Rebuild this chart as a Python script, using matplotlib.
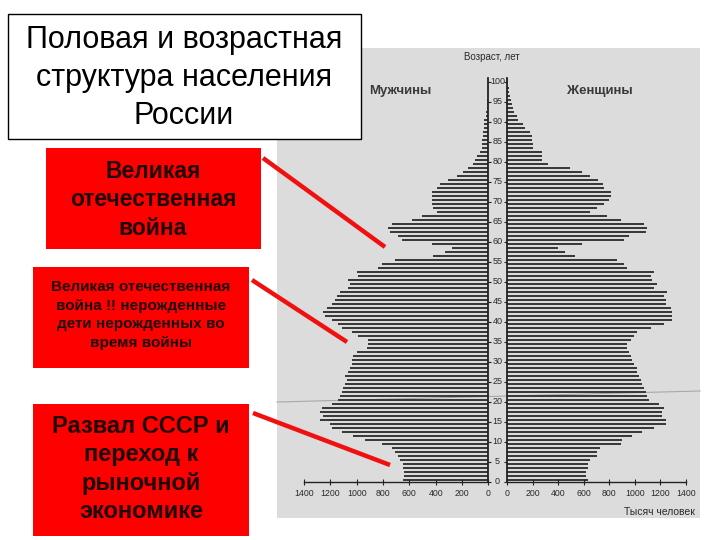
import matplotlib
matplotlib.use("Agg")
import matplotlib.pyplot as plt
import numpy as np
from matplotlib.patches import Rectangle
from matplotlib.lines import Line2D
from matplotlib import transforms

plt.rcParams['font.family'] = ['Liberation Sans', 'DejaVu Sans']

# ---- data (thousands of people, ages 0..100) ----
ages = list(range(0, 101))
men = [648, 640, 640, 648, 648, 670, 686, 709, 731, 807,
       936, 1027, 1111, 1187, 1202, 1278, 1255, 1278, 1263, 1187,
       1141, 1126, 1111, 1103, 1088, 1073, 1088, 1065, 1050, 1035,
       1035, 1027, 997, 921, 913, 913, 990, 1035, 1111, 1141,
       1187, 1240, 1255, 1225, 1187, 1164, 1149, 1126, 1065, 1050,
       1065, 990, 997, 838, 807, 709, 420, 329, 276, 427,
       655, 686, 746, 762, 731, 580, 503, 390, 420, 427,
       427, 427, 427, 390, 367, 306, 238, 192, 154, 116,
       101, 86, 63, 48, 48, 45, 40, 38, 35, 33,
       30, 20, 15, 12, 10, 8, 6, 5, 4, 3, 2]
women = [629, 613, 613, 629, 629, 645, 699, 699, 723, 894,
         902, 980, 1058, 1151, 1245, 1245, 1214, 1214, 1229, 1190,
         1112, 1097, 1089, 1073, 1058, 1050, 1034, 1019, 1019, 995,
         980, 972, 956, 941, 941, 972, 995, 1019, 1128, 1229,
         1292, 1292, 1292, 1284, 1245, 1245, 1229, 1253, 1151, 1175,
         1136, 1128, 1151, 941, 917, 863, 528, 450, 395, 582,
         917, 956, 1089, 1097, 1073, 894, 785, 645, 699, 761,
         800, 816, 816, 761, 746, 707, 645, 582, 489, 317,
         271, 271, 271, 200, 200, 193, 193, 177, 138, 122,
         83, 76, 52, 44, 37, 28, 22, 16, 12, 9, 6]
x_ticks = [0, 200, 400, 600, 800, 1000, 1200, 1400]
age_ticks = list(range(0, 101, 5))

title = "Половая и возрастная\nструктура населения\nРоссии"
note1 = "Великая\nотечественная\nвойна"
note2 = "Великая отечественная\nвойна !! нерожденные\nдети нерожденных во\nвремя войны"
note3 = "Развал СССР и\nпереход к\nрыночной\nэкономике"

W, H = 720, 540
fig = plt.figure(figsize=(W / 100, H / 100), dpi=100)
fig.patch.set_facecolor('white')


def fx(x):
    return x / W


def fy(y):
    return 1 - y / H


# gray scanned panel
fig.add_artist(Rectangle((fx(277), fy(518)), fx(700) - fx(277), fy(48) - fy(518),
                         transform=fig.transFigure, facecolor='#dcdcdc',
                         edgecolor='none', zorder=-3))
# faint scan line
fig.add_artist(Line2D([fx(277), fx(700)], [fy(402), fy(391)], transform=fig.transFigure,
                      color='#a8a8a8', lw=0.8, zorder=-2))

bar_color = '#3a3a3a'
txt_color = '#2a2a2a'
y = np.array(ages) + 0.5

# men (left)
axL = fig.add_axes([fx(304), fy(482), fx(488.3) - fx(304), fy(78) - fy(482)])
axL.set_facecolor('none')
axL.barh(y, men, height=0.68, color=bar_color, edgecolor='none')
axL.set_xlim(1400, 0)
axL.set_ylim(0, 101)
# women (right)
axR = fig.add_axes([fx(507.3), fy(482), fx(686) - fx(507.3), fy(78) - fy(482)])
axR.set_facecolor('none')
axR.barh(y, women, height=0.68, color=bar_color, edgecolor='none')
axR.set_xlim(0, 1400)
axR.set_ylim(0, 101)

for ax, side in ((axL, 'right'), (axR, 'left')):
    for s in ('top', 'left', 'right', 'bottom'):
        ax.spines[s].set_visible(False)
    ax.spines[side].set_visible(True)
    ax.spines['bottom'].set_visible(True)
    ax.spines[side].set_color('#222222')
    ax.spines['bottom'].set_color('#222222')
    ax.spines[side].set_linewidth(1.3)
    ax.spines['bottom'].set_linewidth(1.0)
    ax.set_xticks(x_ticks)
    ax.set_xticklabels([str(v) for v in x_ticks])
    ax.tick_params(axis='x', direction='inout', length=4, width=0.8, colors='#222222',
                   labelsize=6.3, labelcolor=txt_color, pad=3)
    ax.set_yticks(age_ticks)
    ax.yaxis.set_ticks_position(side)
    ax.tick_params(axis='y', direction='out', length=2.5, width=0.8, colors='#222222',
                   labelleft=False, labelright=False)

# age labels between the spines
trans = transforms.blended_transform_factory(fig.transFigure, axL.transData)
for a in age_ticks:
    axL.text(fx(497.5), a, str(a), transform=trans, ha='center', va='center',
             fontsize=6.5, color=txt_color, clip_on=False)

fig.text(fx(492), fy(57), "Возраст, лет", ha='center', va='center', fontsize=7, color=txt_color)
fig.text(fx(400), fy(91), "Мужчины", ha='center', va='center', fontsize=9.5,
         fontweight='bold', color='#3a3a3a')
fig.text(fx(600), fy(91), "Женщины", ha='center', va='center', fontsize=9.5,
         fontweight='bold', color='#3a3a3a')
fig.text(fx(695), fy(512), "Тысяч человек", ha='right', va='center', fontsize=7.5, color=txt_color)

# title box
fig.add_artist(Rectangle((fx(8), fy(139)), fx(361) - fx(8), fy(14) - fy(139),
                         transform=fig.transFigure, facecolor='white',
                         edgecolor='black', lw=1.0, zorder=5))
fig.text(fx(184), fy(78), title, ha='center', va='center', fontsize=22,
         linespacing=1.33, color='black', zorder=6)

# red notes
red = '#ff0000'
note_color = '#1e0808'
boxes = [((46, 148, 261, 249), note1, 16.5, 1.3, (153, 200)),
         ((33, 267, 249, 368), note2, 11, 1.4, (141, 315)),
         ((33, 404, 249, 536), note3, 17, 1.3, (141, 469))]
for (x0, y0, x1, y1), txt, fs, ls, (cx, cy) in boxes:
    fig.add_artist(Rectangle((fx(x0), fy(y1)), fx(x1) - fx(x0), fy(y0) - fy(y1),
                             transform=fig.transFigure, facecolor=red,
                             edgecolor='none', zorder=5))
    fig.text(fx(cx), fy(cy), txt, ha='center', va='center', fontsize=fs,
             fontweight='bold', linespacing=ls, color=note_color, zorder=6)

# red pointer lines
lines = [((263, 158), (385, 247)),
         ((252, 280), (347, 342)),
         ((253, 413), (390, 465))]
for (xa, ya), (xb, yb) in lines:
    fig.add_artist(Line2D([fx(xa), fx(xb)], [fy(ya), fy(yb)], transform=fig.transFigure,
                          color='#f01010', lw=3.2, solid_capstyle='butt', zorder=7))

fig.savefig('out.png', dpi=100)
